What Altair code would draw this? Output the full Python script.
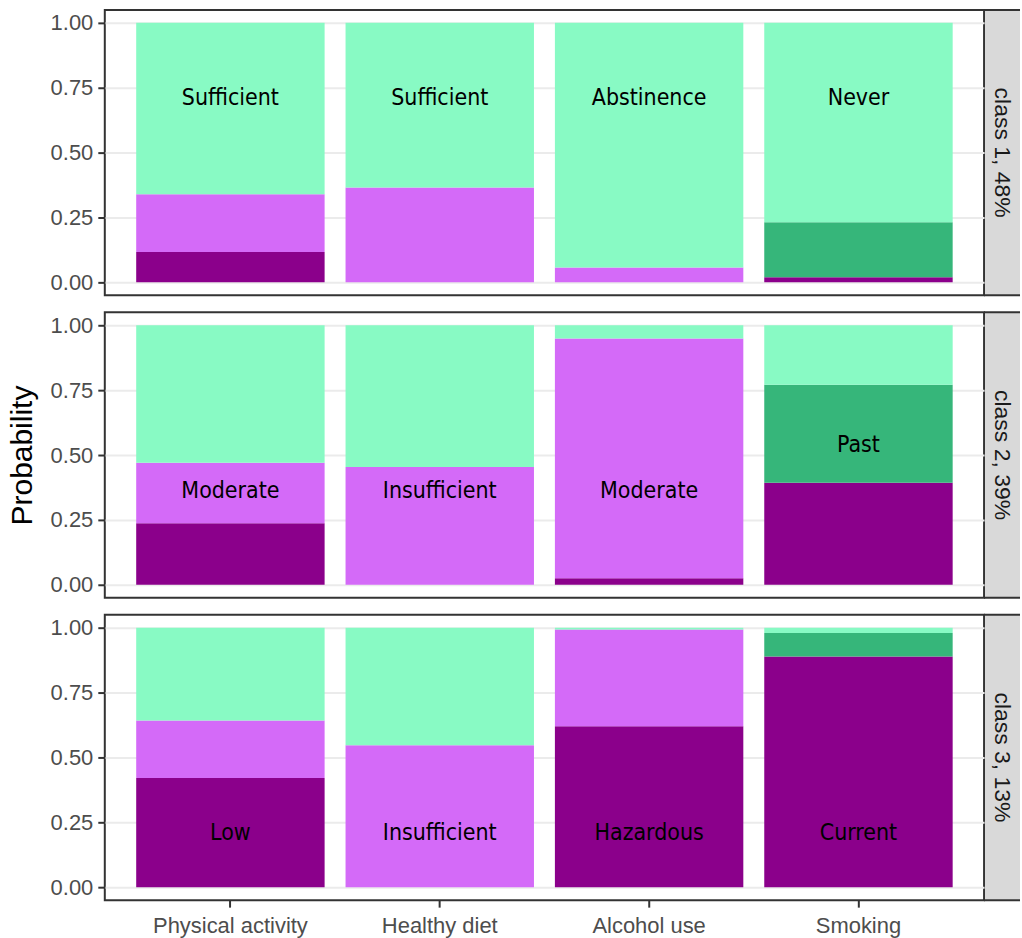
import altair as alt
import pandas as pd

# Behaviour domains (x) and latent classes (rows)
variables = ["Physical activity", "Healthy diet", "Alcohol use", "Smoking"]
classes = ["class 1, 48%", "class 2, 39%", "class 3, 13%"]

# Response levels of each domain, listed from the bottom of the stack upward
pa_levels = ["Low", "Moderate", "Sufficient"]
hd_levels = ["Insufficient", "Sufficient"]
au_levels = ["Hazardous", "Moderate", "Abstinence"]
sm_levels = ["Current", "Past", "Never"]

# Item-response probabilities, one list per class (class 1, 2, 3)
pa_probs = [[0.117, 0.223, 0.660], [0.237, 0.233, 0.530], [0.421, 0.221, 0.358]]
hd_probs = [[0.366, 0.634], [0.454, 0.546], [0.547, 0.453]]
au_probs = [[0.000, 0.057, 0.943], [0.025, 0.924, 0.051], [0.620, 0.373, 0.007]]
sm_probs = [[0.020, 0.212, 0.768], [0.393, 0.378, 0.229], [0.889, 0.091, 0.020]]

# Annotated level in each class/domain and the height of its label
label_text = [
    ["Sufficient", "Sufficient", "Abstinence", "Never"],
    ["Moderate", "Insufficient", "Moderate", "Past"],
    ["Low", "Insufficient", "Hazardous", "Current"],
]
label_y = [
    [0.71, 0.71, 0.71, 0.71],
    [0.36, 0.36, 0.36, 0.54],
    [0.21, 0.21, 0.21, 0.21],
]

# Fill colour per level
level_names = ["Low", "Hazardous", "Current", "Insufficient", "Moderate",
               "Past", "Sufficient", "Abstinence", "Never"]
level_colors = ["#8B008B", "#8B008B", "#8B008B", "#D46AF8", "#D46AF8",
                "#36B67A", "#88FAC4", "#88FAC4", "#88FAC4"]

levels_by_variable = [pa_levels, hd_levels, au_levels, sm_levels]
probs_by_variable = [pa_probs, hd_probs, au_probs, sm_probs]

rows = []
for ci, cls in enumerate(classes):
    for vi, var in enumerate(variables):
        for li, (lev, p) in enumerate(zip(levels_by_variable[vi], probs_by_variable[vi][ci])):
            is_label = lev == label_text[ci][vi]
            rows.append({
                "klass": cls,
                "variable": var,
                "level": lev,
                "rank": li,
                "p": p,
                "labeled": is_label,
                "label_y": label_y[ci][vi] if is_label else None,
                "strip": vi == len(variables) - 1 and li == 0,
            })
df = pd.DataFrame(rows)

W, H = 881, 286
STRIP = 36
NARROW = "DejaVu Sans Condensed"

minor = "round(datum.value * 8) % 2 == 1"
y_scale = alt.Scale(domain=[-0.05, 1.05], nice=False, zero=False)
x_scale = alt.Scale(paddingInner=0.1, paddingOuter=0.15)


def panel(ci):
    cls = classes[ci]
    bottom = ci == len(classes) - 1
    y_title = "Probability" if ci == 1 else None

    y_axis = alt.Axis(
        values=[i / 8 for i in range(9)],
        labelExpr=f"{minor} ? '' : format(datum.value, '.2f')",
        gridWidth={"condition": {"test": minor, "value": 1}, "value": 2},
        tickOpacity={"condition": {"test": minor, "value": 0}, "value": 1},
        labelPadding=5,
        titlePadding=13,
    )
    if bottom:
        x_axis = alt.Axis(labelAngle=0, gridWidth=2, labelPadding=8)
    else:
        x_axis = alt.Axis(labels=False, ticks=False, gridWidth=2)

    base = alt.Chart()
    bars = base.mark_bar().encode(
        x=alt.X("variable:N", sort=variables, title=None, scale=x_scale, axis=x_axis),
        y=alt.Y("p:Q", stack="zero", scale=y_scale, axis=y_axis, title=y_title),
        color=alt.Color("level:N", scale=alt.Scale(domain=level_names, range=level_colors), legend=None),
        order=alt.Order("rank:Q", sort="ascending"),
    )
    labels = base.mark_text(font=NARROW, fontSize=23, color="black", baseline="middle").encode(
        x=alt.X("variable:N", sort=variables, title=None, scale=x_scale),
        y=alt.Y("label_y:Q", scale=y_scale, title=y_title),
        text="level:N",
    ).transform_filter("datum.labeled")

    # Facet strip on the right of the panel
    strip_bg = base.mark_rect(fill="#D9D9D9").encode(
        x=alt.value(W + 1), x2=alt.value(W + STRIP), y=alt.value(0), y2=alt.value(H)
    ).transform_filter("datum.strip")
    strip_top = base.mark_rule(color="#333333", strokeWidth=2).encode(
        x=alt.value(W), x2=alt.value(W + STRIP), y=alt.value(0)
    ).transform_filter("datum.strip")
    strip_bottom = base.mark_rule(color="#333333", strokeWidth=2).encode(
        x=alt.value(W), x2=alt.value(W + STRIP), y=alt.value(H)
    ).transform_filter("datum.strip")
    strip_text = base.mark_text(
        angle=90, fontSize=23, color="#1A1A1A", font="Liberation Sans",
        align="center", baseline="middle",
    ).encode(
        x=alt.value(W + STRIP / 2), y=alt.value(H / 2), text="klass:N"
    ).transform_filter("datum.strip")

    return alt.layer(
        bars, labels, strip_bg, strip_top, strip_bottom, strip_text
    ).transform_filter(alt.datum.klass == cls).properties(width=W, height=H)


chart = alt.vconcat(
    *[panel(i) for i in range(len(classes))], data=df, spacing=13
).properties(
    padding={"left": 6, "top": 7, "right": 0, "bottom": 0},
).configure_view(
    stroke="#333333", strokeWidth=2,
).configure_axis(
    domain=False,
    gridColor="#EBEBEB",
    tickColor="#333333",
    tickWidth=2,
    tickSize=7,
    labelColor="#4D4D4D",
    labelFont="Liberation Sans",
    labelFontSize=22,
    titleFont="Liberation Sans",
    titleFontSize=30,
    titleFontWeight="normal",
    titleColor="black",
)

chart.save("out.html", embed_options={"renderer": "svg", "actions": False})
